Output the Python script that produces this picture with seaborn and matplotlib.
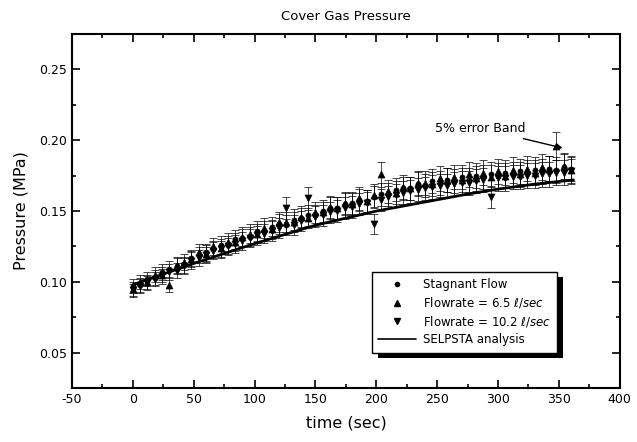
import numpy as np
import pandas as pd
import matplotlib
matplotlib.use("Agg")
import matplotlib.pyplot as plt
from matplotlib.patches import Rectangle
from matplotlib.ticker import MultipleLocator
import seaborn as sns

# ---------------- data ----------------
time_s = list(range(0, 361, 6))

stagnant = [0.097, 0.098, 0.102, 0.103, 0.107, 0.109, 0.111, 0.112, 0.117, 0.119,
            0.121, 0.123, 0.126, 0.126, 0.130, 0.131, 0.132, 0.136, 0.136, 0.139,
            0.141, 0.140, 0.144, 0.145, 0.147, 0.147, 0.150, 0.152, 0.152, 0.155,
            0.156, 0.158, 0.157, 0.160, 0.162, 0.162, 0.165, 0.166, 0.166, 0.169,
            0.168, 0.171, 0.170, 0.172, 0.171, 0.174, 0.172, 0.175, 0.174, 0.176,
            0.175, 0.177, 0.176, 0.178, 0.177, 0.179, 0.178, 0.180, 0.179, 0.181,
            0.180]

flow_6_5 = [0.095, 0.100, 0.100, 0.105, 0.105, 0.098, 0.112, 0.114, 0.116, 0.121,
            0.120, 0.125, 0.124, 0.128, 0.128, 0.132, 0.134, 0.134, 0.138, 0.137,
            0.142, 0.142, 0.142, 0.146, 0.145, 0.149, 0.149, 0.153, 0.152, 0.156,
            0.155, 0.159, 0.157, 0.161, 0.176, 0.164, 0.163, 0.167, 0.166, 0.170,
            0.170, 0.169, 0.173, 0.172, 0.174, 0.172, 0.176, 0.173, 0.177, 0.174,
            0.178, 0.175, 0.179, 0.176, 0.180, 0.177, 0.181, 0.180, 0.196, 0.182,
            0.179]

flow_10_2 = [0.094, 0.097, 0.099, 0.102, 0.104, 0.107, 0.108, 0.111, 0.115, 0.117,
             0.119, 0.122, 0.123, 0.125, 0.127, 0.129, 0.131, 0.133, 0.134, 0.136,
             0.138, 0.152, 0.140, 0.143, 0.159, 0.146, 0.147, 0.149, 0.150, 0.152,
             0.153, 0.155, 0.156, 0.141, 0.158, 0.160, 0.161, 0.163, 0.164, 0.165,
             0.166, 0.167, 0.168, 0.168, 0.169, 0.170, 0.170, 0.171, 0.172, 0.160,
             0.173, 0.173, 0.174, 0.174, 0.175, 0.175, 0.176, 0.176, 0.177, 0.177,
             0.178]

selpsta_t = [0, 25, 50, 75, 100, 125, 150, 175, 200, 225, 250, 275, 300, 330, 362]
selpsta_p = [0.098, 0.1055, 0.113, 0.120, 0.127, 0.1335, 0.140, 0.145, 0.150, 0.154,
             0.158, 0.162, 0.1655, 0.169, 0.172]

error_frac = 0.05

series_names = ["Stagnant Flow",
                r"Flowrate = 6.5 $\mathit{\ell/sec}$",
                r"Flowrate = 10.2 $\mathit{\ell/sec}$"]
series_vals = [stagnant, flow_6_5, flow_10_2]
series_markers = ["o", "^", "v"]
series_sizes = [14, 26, 26]

x_ticks = [-50, 0, 50, 100, 150, 200, 250, 300, 350, 400]
y_ticks = [0.05, 0.10, 0.15, 0.20, 0.25]

# ---------------- figure ----------------
sns.set_style("ticks")
plt.rcParams["font.family"] = ["DejaVu Sans"]

fig = plt.figure(figsize=(6.37, 4.42), dpi=100)
ax = fig.add_axes([0.113, 0.122, 0.86, 0.801])

# SELPSTA analysis line
line_df = pd.DataFrame({"t": selpsta_t, "p": selpsta_p})
sns.lineplot(data=line_df, x="t", y="p", ax=ax, color="black", linewidth=2.0,
             zorder=3, label="SELPSTA analysis", legend=False)

handles = []
for name, vals, mk, sz in zip(series_names, series_vals, series_markers, series_sizes):
    v = np.array(vals)
    ax.errorbar(time_s, v, yerr=error_frac * v, fmt="none", ecolor="black",
                elinewidth=0.5, capsize=3, capthick=0.5, zorder=2)
    df = pd.DataFrame({"t": time_s, "p": vals})
    sns.scatterplot(data=df, x="t", y="p", ax=ax, marker=mk, s=sz, color="black",
                    edgecolor="black", linewidth=0.4, zorder=4, legend=False)
    handles.append(plt.Line2D([], [], linestyle="none", marker=mk, color="black",
                              markersize=3 if mk == "o" else 4.5, label=name))

handles.append(plt.Line2D([], [], color="black", linewidth=1.2, label="SELPSTA analysis"))

ax.set_xlim(-50, 400)
ax.set_ylim(0.025, 0.275)
ax.set_xticks(x_ticks)
ax.set_xticklabels([str(v) for v in x_ticks])
ax.set_yticks(y_ticks)
ax.set_yticklabels([f"{v:.2f}" for v in y_ticks])
ax.xaxis.set_minor_locator(MultipleLocator(25))
ax.yaxis.set_minor_locator(MultipleLocator(0.025))
ax.tick_params(which="both", direction="in", top=True, right=True, width=1.2,
               labelsize=9, colors="black")
ax.tick_params(which="major", length=6)
ax.tick_params(which="minor", length=3)
for sp in ax.spines.values():
    sp.set_linewidth(1.5)
    sp.set_color("black")
    sp.set_visible(True)

ax.set_xlabel("time (sec)", fontsize=11.5, labelpad=7, color="black")
ax.set_ylabel("Pressure (MPa)", fontsize=11.5, labelpad=8, color="black")
ax.set_title("Cover Gas Pressure", fontsize=9.5, pad=10, color="black")

ax.annotate("5% error Band", xy=(353, 0.1945), xytext=(248, 0.2085),
            fontsize=9, ha="left", va="center", color="black",
            arrowprops=dict(arrowstyle="-|>", color="black", lw=1.0,
                            mutation_scale=8, shrinkA=2, shrinkB=0))

leg = ax.legend(handles=handles, loc="upper left", bbox_to_anchor=(0.536, 0.345),
                frameon=True, fancybox=False, edgecolor="black", framealpha=1.0,
                fontsize=8.5, handlelength=3.2, borderpad=0.55, labelspacing=0.33,
                handletextpad=0.6)
leg.get_frame().set_linewidth(1.0)
leg.set_zorder(10)
for t in leg.get_texts():
    t.set_color("black")

# solid drop shadow behind the legend box
fig.canvas.draw()
bb = leg.get_window_extent()
shadow = Rectangle((bb.x0 + 6, bb.y0 - 5), bb.width, bb.height,
                   transform=None, facecolor="black", edgecolor="none", zorder=9)
ax.add_artist(shadow)

fig.savefig("out.png", dpi=100)
